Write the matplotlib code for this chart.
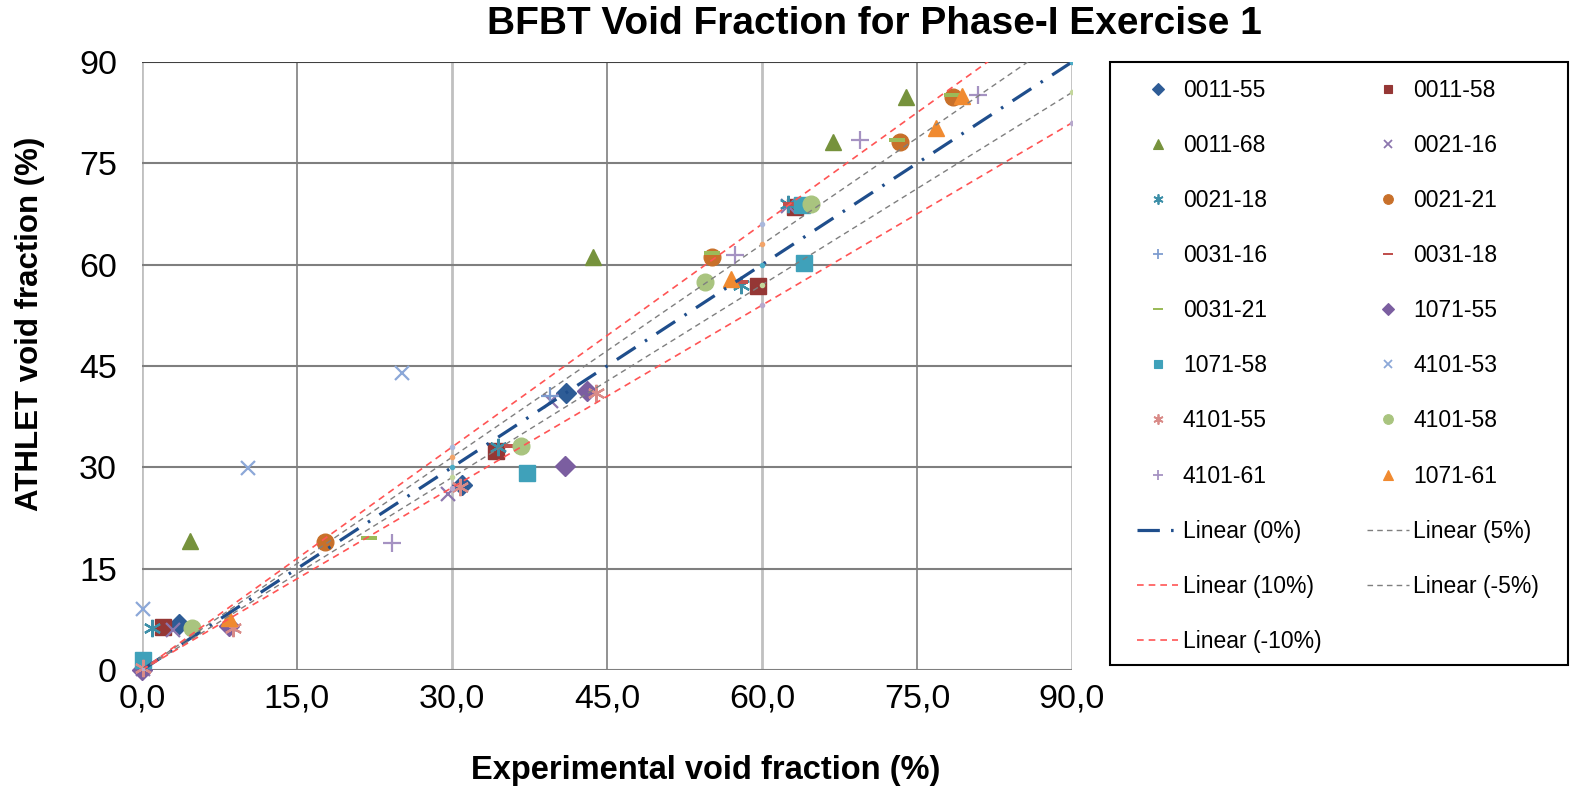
import matplotlib
matplotlib.use('Agg')
import matplotlib.pyplot as plt
from matplotlib.lines import Line2D
from matplotlib.patches import Rectangle

# ---------------- data ----------------
x_0011_55 = [3.6, 31.0, 41.0]
y_0011_55 = [6.8, 27.4, 41.0]
x_0011_58 = [2.0, 34.3, 59.6, 63.2]
y_0011_58 = [6.4, 32.4, 56.8, 68.5]
x_0011_68 = [4.6, 43.6, 66.9, 73.9]
y_0011_68 = [19.1, 61.1, 78.2, 84.8]
x_0021_16 = [0.1, 3.0, 29.6, 39.6, 62.5]
y_0021_16 = [0.2, 5.9, 26.0, 39.8, 68.7]
x_0021_18 = [1.0, 34.5, 58.0, 62.5]
y_0021_18 = [6.2, 33.0, 57.0, 69.0]
x_0021_21 = [17.7, 55.2, 73.4, 78.5]
y_0021_21 = [19.0, 61.1, 78.2, 84.8]
x_0031_16 = [39.5]
y_0031_16 = [40.6]
x_0031_18 = [35.8, 57.9, 62.8]
y_0031_18 = [33.2, 57.4, 69.0]
x_0031_21 = [22.0, 55.2, 73.1, 78.4]
y_0031_21 = [19.5, 61.7, 78.4, 85.1]
x_1071_55 = [0.0, 8.4, 40.9, 43.1]
y_1071_55 = [0.0, 6.5, 30.2, 41.3]
x_1071_58 = [0.1, 37.3, 63.9, 64.1]
y_1071_58 = [1.5, 29.2, 68.8, 60.2]
x_4101_53 = [0.1, 10.3, 25.2]
y_4101_53 = [9.0, 29.9, 44.0]
x_4101_55 = [0.1, 8.8, 30.8, 43.9]
y_4101_55 = [0.3, 6.2, 27.1, 41.0]
x_4101_58 = [4.8, 36.7, 54.5, 64.7]
y_4101_58 = [6.2, 33.2, 57.4, 69.0]
x_4101_61 = [24.2, 57.4, 69.5, 80.9]
y_4101_61 = [18.8, 61.4, 78.4, 85.1]
x_1071_61 = [8.4, 57.0, 76.8, 79.4]
y_1071_61 = [7.7, 57.9, 80.2, 85.0]

fit_labels = ['Linear (0%)', 'Linear (5%)', 'Linear (10%)', 'Linear (-5%)', 'Linear (-10%)']
fit_factors = [1.00, 1.05, 1.10, 0.95, 0.90]
fit_x = [0, 30, 60, 90]

x_ticks = [0, 15, 30, 45, 60, 75, 90]
x_tick_labels = ['0,0', '15,0', '30,0', '45,0', '60,0', '75,0', '90,0']
y_ticks = [0, 15, 30, 45, 60, 75, 90]
y_tick_labels = ['0', '15', '30', '45', '60', '75', '90']

# ---------------- styles ----------------
dash_marker = [(-1, -0.28), (1, -0.28), (1, 0.28), (-1, 0.28), (-1, -0.28)]
star = (6, 2, 0)

series = [
    ('0011-55', x_0011_55, y_0011_55, 'D', '#2E5C96', 10, 1),
    ('0011-58', x_0011_58, y_0011_58, 's', '#953735', 11, 1),
    ('0011-68', x_0011_68, y_0011_68, '^', '#76923C', 12, 1),
    ('0021-16', x_0021_16, y_0021_16, 'x', '#8C76AE', 10.5, 1.6),
    ('0021-18', x_0021_18, y_0021_18, star, '#3D8FA8', 12.5, 1.6),
    ('0021-21', x_0021_21, y_0021_21, 'o', '#C8702A', 12, 1),
    ('0031-16', x_0031_16, y_0031_16, '+', '#7D9CCF', 12.5, 1.6),
    ('0031-18', x_0031_18, y_0031_18, dash_marker, '#C0504D', 12, 0),
    ('0031-21', x_0031_21, y_0031_21, dash_marker, '#9BBB59', 12, 0),
    ('1071-55', x_1071_55, y_1071_55, 'D', '#7B5EA0', 10, 1),
    ('1071-58', x_1071_58, y_1071_58, 's', '#3FA1BA', 11, 1),
    ('4101-53', x_4101_53, y_4101_53, 'x', '#8CA8D8', 10.5, 1.6),
    ('4101-55', x_4101_55, y_4101_55, star, '#D98B88', 12.5, 1.6),
    ('4101-58', x_4101_58, y_4101_58, 'o', '#A9C47F', 12, 1),
    ('4101-61', x_4101_61, y_4101_61, '+', '#A592C2', 12.5, 1.6),
    ('1071-61', x_1071_61, y_1071_61, '^', '#F08A30', 12, 1),
]

fit_styles = [
    dict(color='#1F4E8C', lw=2.3, ls=(0, (7, 3.5, 0.8, 3.5))),
    dict(color='#7F7F7F', lw=1.0, ls=(0, (4, 3))),
    dict(color='#FF5555', lw=1.2, ls=(0, (4, 3))),
    dict(color='#7F7F7F', lw=1.0, ls=(0, (4, 3))),
    dict(color='#FF5555', lw=1.2, ls=(0, (4, 3))),
]
fit_dot_colors = ['#4BACC6', '#F2A469', '#A9B8DC', '#C3D69B', '#B7A8CC']

plt.rcParams['font.family'] = ['Liberation Sans', 'DejaVu Sans']

W, H = 1572, 788
fig = plt.figure(figsize=(W / 100, H / 100), dpi=100)
L, R, B, T = 142 / W, 1072 / W, 1 - 670 / H, 1 - 62 / H
ax = fig.add_axes([L, B, R - L, T - B])
ax.set_xlim(0, 90)
ax.set_ylim(0, 90)
for s in ax.spines.values():
    s.set_visible(False)

# grid lines
for v in x_ticks:
    if v % 30 == 0:
        ax.axvline(v, color='#C0C0C0', lw=2.0, zorder=0.5)
    else:
        ax.axvline(v, color='#7F7F7F', lw=1.2, zorder=0.6)
for h in y_ticks:
    ax.axhline(h, color='#404040' if h == 90 else '#7F7F7F', lw=1.5, zorder=0.7)

ax.set_xticks(x_ticks)
ax.set_xticklabels(x_tick_labels)
ax.set_yticks(y_ticks)
ax.set_yticklabels(y_tick_labels)
ax.tick_params(axis='both', length=0, labelsize=24.5, colors='#000000')
ax.tick_params(axis='x', pad=10)
ax.tick_params(axis='y', pad=18)

handles = []
for name, xs, ys, mk, col, ms, mew in series:
    ax.plot(xs, ys, ls='none', marker=mk, ms=ms, color=col,
            mec=col, mew=mew, clip_on=False, zorder=3)
    handles.append(Line2D([], [], ls='none', marker=mk, ms=ms * 0.58, color=col,
                          mec=col, mew=mew * 0.8))

fit_handles = []
for lab, f, st, dc in zip(fit_labels, fit_factors, fit_styles, fit_dot_colors):
    fy = [f * v for v in fit_x]
    ax.plot(fit_x, fy, color=st['color'], lw=st['lw'], ls=st['ls'], zorder=4)
    ax.plot(fit_x, fy, ls='none', marker='o', ms=3, color=dc, zorder=4.5, clip_on=True)
    fit_handles.append(Line2D([], [], color=st['color'], lw=st['lw'], ls=st['ls']))

labels = [s[0] for s in series] + fit_labels
all_h = handles + fit_handles
# legend is row-major in the reference; matplotlib fills columns first
order = list(range(0, len(all_h), 2)) + list(range(1, len(all_h), 2))
leg = fig.legend([all_h[i] for i in order], [labels[i] for i in order],
                 ncol=2, loc='upper left',
                 bbox_to_anchor=(1137 / W, 1 - 79 / H),
                 bbox_transform=fig.transFigure, borderaxespad=0,
                 fontsize=16.5, frameon=False,
                 labelspacing=1.40, handlelength=1.8,
                 handletextpad=0.2, columnspacing=2.0, borderpad=0)
fig.add_artist(Rectangle((1110 / W, 1 - 665 / H), (1568 - 1110) / W, (665 - 62) / H,
                         transform=fig.transFigure, fill=False,
                         edgecolor='#000000', lw=1.5))

fig.text(874 / W, 1 - 24 / H, 'BFBT Void Fraction for Phase-I Exercise 1',
         ha='center', va='center', fontsize=28, fontweight='bold',
         family=['Liberation Sans Narrow', 'Liberation Sans', 'DejaVu Sans'])
fig.text(706 / W, 1 - 770 / H, 'Experimental void fraction (%)',
         ha='center', va='center', fontsize=23.5, fontweight='bold')
fig.text(30 / W, 1 - 324 / H, 'ATHLET void fraction (%)',
         ha='center', va='center', fontsize=22.5, fontweight='bold', rotation=90)

fig.savefig('out.png', dpi=100)
